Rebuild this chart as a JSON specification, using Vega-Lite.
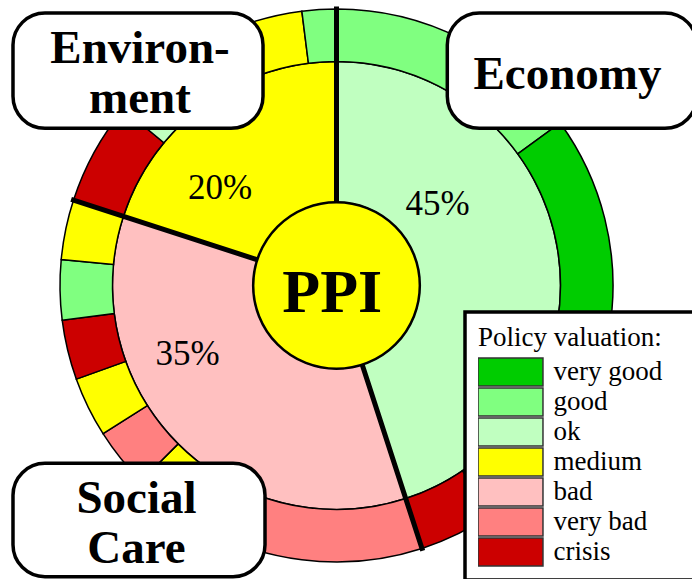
{
  "$schema": "https://vega.github.io/schema/vega-lite/v6.json",
  "width": 673,
  "height": 571,
  "autosize": {"type": "none"},
  "padding": {"left": 0, "top": 0, "right": 19, "bottom": 8},
  "background": "white",
  "config": {"view": {"stroke": null}},
  "datasets": {
    "inner": [
      {"sector": "Economy", "valuation": "ok", "share": 45, "seg": 1},
      {"sector": "Social Care", "valuation": "bad", "share": 35, "seg": 2},
      {"sector": "Environment", "valuation": "medium", "share": 20, "seg": 3}
    ],
    "outer": [
      {"sector": "Economy", "valuation": "good", "share": 15, "seg": 1},
      {"sector": "Economy", "valuation": "very good", "share": 25.5, "seg": 2},
      {"sector": "Economy", "valuation": "crisis", "share": 4.5, "seg": 3},
      {"sector": "Social Care", "valuation": "very bad", "share": 14, "seg": 4},
      {"sector": "Social Care", "valuation": "medium", "share": 3.5, "seg": 5},
      {"sector": "Social Care", "valuation": "very bad", "share": 3.5, "seg": 6},
      {"sector": "Social Care", "valuation": "medium", "share": 3.5, "seg": 7},
      {"sector": "Social Care", "valuation": "crisis", "share": 3.5, "seg": 8},
      {"sector": "Social Care", "valuation": "good", "share": 3.5, "seg": 9},
      {"sector": "Social Care", "valuation": "medium", "share": 3.5, "seg": 10},
      {"sector": "Environment", "valuation": "crisis", "share": 6, "seg": 11},
      {"sector": "Environment", "valuation": "ok", "share": 2, "seg": 12},
      {"sector": "Environment", "valuation": "medium", "share": 10, "seg": 13},
      {"sector": "Environment", "valuation": "good", "share": 2, "seg": 14}
    ],
    "bounds": [{"at": 0}, {"at": 45}, {"at": 80}],
    "boxes": [
      {"sector": "Environment", "left": -1.1679, "right": -0.2653, "top": 0.9838, "bottom": 0.5675},
      {"sector": "Economy", "left": 0.4000, "right": 1.3014, "top": 0.9838, "bottom": 0.5675},
      {"sector": "Social Care", "left": -1.1679, "right": -0.2581, "top": -0.6419, "bottom": -1.0513}
    ],
    "names": [
      {"label": ["Environ-", "ment"], "x": -0.7094, "y": 0.8022},
      {"label": ["Economy"], "x": 0.8339, "y": 0.7094},
      {"label": ["Social", "Care"], "x": -0.7220, "y": -0.8202}
    ],
    "pcts": [
      {"label": "45%", "x": 0.3646, "y": 0.2545},
      {"label": "20%", "x": -0.4206, "y": 0.3123},
      {"label": "35%", "x": -0.5379, "y": -0.2870}
    ],
    "hub": [{"label": "PPI", "x": -0.0155, "y": -0.0946}]
  },
  "layer": [
    {
      "data": {"name": "inner"},
      "mark": {"type": "arc", "radius": 224, "radius2": 83, "stroke": "black", "strokeWidth": 1.5},
      "encoding": {
        "theta": {"field": "share", "type": "quantitative", "stack": true, "scale": {"domain": [0, 100]}},
        "order": {"field": "seg", "type": "quantitative"},
        "color": {"field": "valuation", "type": "nominal",
          "scale": {"domain": ["very good", "good", "ok", "medium", "bad", "very bad", "crisis"],
                    "range": ["#00CC00", "#80FF80", "#C0FFC0", "#FFFF00", "#FFC0C0", "#FF8080", "#CC0000"]}}
      }
    },
    {
      "data": {"name": "outer"},
      "mark": {"type": "arc", "radius": 276.5, "radius2": 224, "stroke": "black", "strokeWidth": 1.5},
      "encoding": {
        "theta": {"field": "share", "type": "quantitative", "stack": true, "scale": {"domain": [0, 100]}},
        "order": {"field": "seg", "type": "quantitative"},
        "color": {"field": "valuation", "type": "nominal",
          "scale": {"domain": ["very good", "good", "ok", "medium", "bad", "very bad", "crisis"],
                    "range": ["#00CC00", "#80FF80", "#C0FFC0", "#FFFF00", "#FFC0C0", "#FF8080", "#CC0000"]},
          "legend": {
            "title": "Policy valuation:\u2800",
            "orient": "none", "legendX": 465, "legendY": 312,
            "padding": 13,
            "fillColor": "white", "strokeColor": "black",
            "titleFont": "Liberation Serif", "titleFontSize": 27, "titleFontWeight": "normal", "titleColor": "black", "titlePadding": 5, "titleLimit": 400,
            "labelFont": "Liberation Serif", "labelFontSize": 27, "labelColor": "black", "labelOffset": 28, "labelLimit": 400,
            "symbolType": "M-2.32,-1H2.32V1H-2.32Z", "symbolSize": 784, "symbolOffset": 17.5,
            "symbolStrokeColor": "#333333", "symbolStrokeWidth": 1.5,
            "clipHeight": 30,
            "rowPadding": 0,
            "encode": {"legend": {"update": {"strokeWidth": {"value": 3.5}}}}
          }
        }
      }
    },
    {
      "data": {"name": "bounds"},
      "mark": {"type": "arc", "radius": 279, "radius2": 83, "filled": false, "stroke": "black", "strokeWidth": 5},
      "encoding": {
        "theta": {"field": "at", "type": "quantitative", "stack": null, "scale": {"domain": [0, 100]}},
        "theta2": {"field": "at"}
      }
    },
    {
      "data": {"values": [{"hub": "PPI"}]},
      "mark": {"type": "arc", "radius": 83.3, "theta": 6.2832, "fill": "#FFFF00", "stroke": "black", "strokeWidth": 2.5},
      "encoding": {}
    },
    {
      "data": {"name": "boxes"},
      "mark": {"type": "rect", "fill": "white", "stroke": "black", "strokeWidth": 3.5, "cornerRadius": 32},
      "encoding": {
        "x": {"field": "left", "type": "quantitative", "axis": null, "scale": {"domain": [-1.2148, 1.2148], "nice": false, "zero": false}},
        "x2": {"field": "right"},
        "y": {"field": "top", "type": "quantitative", "axis": null, "scale": {"domain": [-1.0307, 1.0307], "nice": false, "zero": false}},
        "y2": {"field": "bottom"}
      }
    },
    {
      "data": {"name": "names"},
      "mark": {"type": "text", "font": "Liberation Serif", "fontWeight": "bold", "fontSize": 47, "lineHeight": 50, "align": "center", "baseline": "alphabetic", "color": "black"},
      "encoding": {
        "x": {"field": "x", "type": "quantitative", "axis": null, "scale": {"domain": [-1.2148, 1.2148], "nice": false, "zero": false}},
        "y": {"field": "y", "type": "quantitative", "axis": null, "scale": {"domain": [-1.0307, 1.0307], "nice": false, "zero": false}},
        "text": {"field": "label"}
      }
    },
    {
      "data": {"name": "pcts"},
      "mark": {"type": "text", "font": "Liberation Serif", "fontSize": 35, "align": "center", "baseline": "alphabetic", "color": "black"},
      "encoding": {
        "x": {"field": "x", "type": "quantitative", "axis": null, "scale": {"domain": [-1.2148, 1.2148], "nice": false, "zero": false}},
        "y": {"field": "y", "type": "quantitative", "axis": null, "scale": {"domain": [-1.0307, 1.0307], "nice": false, "zero": false}},
        "text": {"field": "label"}
      }
    },
    {
      "data": {"name": "hub"},
      "mark": {"type": "text", "font": "Liberation Serif", "fontWeight": "bold", "fontSize": 62, "align": "center", "baseline": "alphabetic", "color": "black"},
      "encoding": {
        "x": {"field": "x", "type": "quantitative", "axis": null, "scale": {"domain": [-1.2148, 1.2148], "nice": false, "zero": false}},
        "y": {"field": "y", "type": "quantitative", "axis": null, "scale": {"domain": [-1.0307, 1.0307], "nice": false, "zero": false}},
        "text": {"field": "label"}
      }
    }
  ]
}
